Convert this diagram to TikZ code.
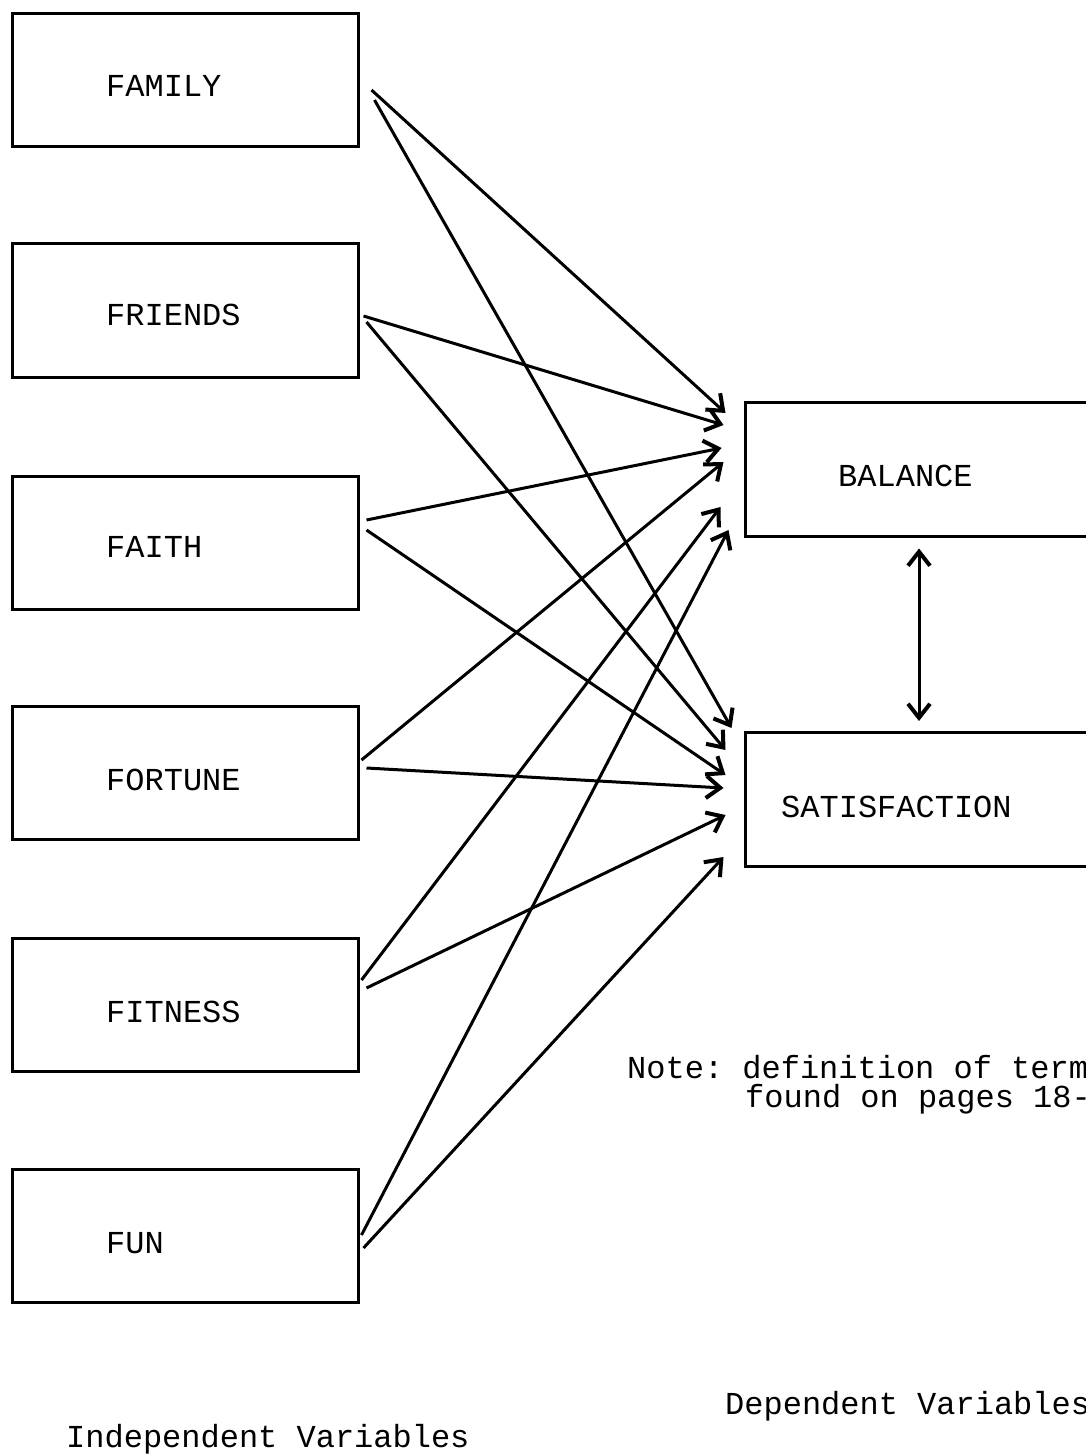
\documentclass[tikz,border=0pt]{standalone}
\usepackage{fontspec}
\setmonofont{Liberation Mono}
\usetikzlibrary{arrows.meta,calc}
\tikzset{
  varbox/.style={draw, line width=3pt, rectangle, minimum width=346pt, minimum height=133pt, inner sep=0pt},
  depbox/.style={draw, line width=3pt, rectangle, minimum width=355pt, minimum height=134pt, inner sep=0pt},
  lbl/.style={anchor=base west, inner sep=0pt, font=\ttfamily\fontsize{32}{38}\selectfont},
  arr/.style={line width=3pt, -{Straight Barb[length=14pt,width=22pt,line width=4pt]}},
  darr/.style={line width=3pt, {Straight Barb[length=14pt,width=22pt,line width=4pt]}-{Straight Barb[length=14pt,width=22pt,line width=4pt]}}
}
\begin{document}
\begin{tikzpicture}[x=1pt,y=-1pt]
\useasboundingbox (0,0) rectangle (1085,1455);
% independent variable boxes
\node[varbox] (family)  at (185,80) {};
\node[varbox] (friends) at (185,310.5) {};
\node[varbox] (faith)   at (185,542.5) {};
\node[varbox] (fortune) at (185,772.5) {};
\node[varbox] (fitness) at (185,1004.5) {};
\node[varbox] (fun)     at (185,1236) {};
\node[lbl] (familyt)  at (106,97) {FAMILY};
\node[lbl] (friendst) at (106,325.5) {FRIENDS};
\node[lbl] (faitht)   at (106,557.5) {FAITH};
\node[lbl] (fortunet) at (106,790.5) {FORTUNE};
\node[lbl] (fitnesst) at (106,1022.5) {FITNESS};
\node[lbl] (funt)     at (106,1253.5) {FUN};
% dependent variable boxes
\node[depbox] (balance) at (922.5,469) {};
\node[depbox] (satis)   at (922.5,799.5) {};
\node[lbl] (balancet) at (838,486) {BALANCE};
\node[lbl] (satist)   at (781,817) {SATISFACTION};
% arrows to BALANCE
\draw[arr] ($(family.east)+(12,10)$)   -- ($(balance.west)+(-18,-56)$);
\draw[arr] ($(friends.east)+(4,5.5)$)  -- ($(balance.west)+(-20,-44)$);
\draw[arr] ($(faith.east)+(7,-22.5)$)  -- ($(balance.west)+(-22,-21)$);
\draw[arr] ($(fortune.east)+(2,-12.5)$) -- ($(balance.west)+(-20,-7)$);
\draw[arr] ($(fitness.east)+(2,-24.5)$) -- ($(balance.west)+(-23,38)$);
\draw[arr] ($(fun.east)+(2,-1)$)       -- ($(balance.west)+(-15,61)$);
% arrows to SATISFACTION
\draw[arr] ($(family.east)+(15,20)$)   -- ($(satis.west)+(-12,-71.5)$);
\draw[arr] ($(friends.east)+(7,11.5)$) -- ($(satis.west)+(-18,-49.5)$);
\draw[arr] ($(faith.east)+(7,-12.5)$)  -- ($(satis.west)+(-18,-24.5)$);
\draw[arr] ($(fortune.east)+(7,-4.5)$) -- ($(satis.west)+(-20,-11.5)$);
\draw[arr] ($(fitness.east)+(7,-16.5)$) -- ($(satis.west)+(-18,15.5)$);
\draw[arr] ($(fun.east)+(4,12)$)       -- ($(satis.west)+(-20,57.5)$);
% double arrow
\draw[darr] ($(balance.south)+(-3.5,11)$) -- ($(satis.north)+(-3.5,-10)$);
% note and captions
\node[lbl] (note1) at (627,1078) {Note: definition of term};
\node[lbl] (note2) at (745,1107) {found on pages 18-};
\node[lbl] (indep) at (66,1447) {Independent Variables};
\node[lbl] (dep)   at (725,1414) {Dependent Variables};
\end{tikzpicture}
\end{document}
